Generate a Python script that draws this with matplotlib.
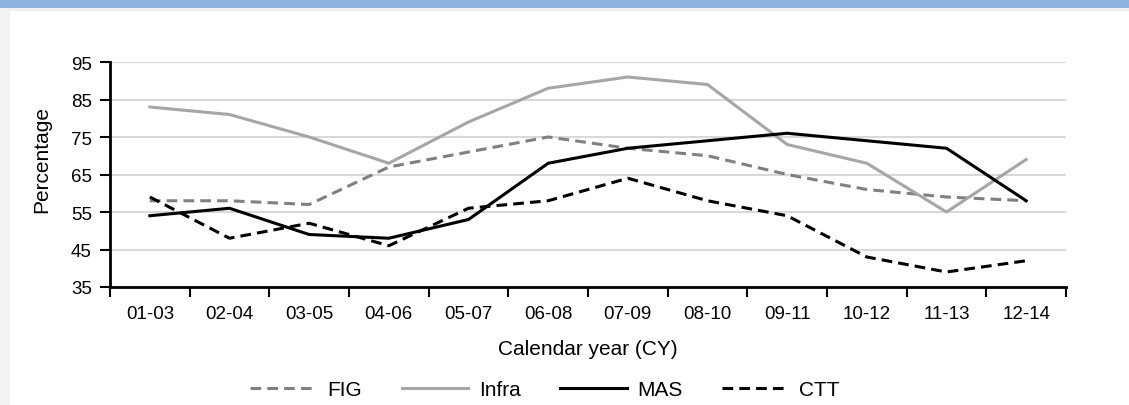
import numpy as np
import matplotlib
matplotlib.use("Agg")
import matplotlib.pyplot as plt
from matplotlib.patches import Rectangle

plt.rcParams['font.family'] = ['Liberation Sans Narrow', 'Liberation Sans', 'DejaVu Sans']

periods = ['01-03', '02-04', '03-05', '04-06', '05-07', '06-08',
           '07-09', '08-10', '09-11', '10-12', '11-13', '12-14']
fig_vals = [58, 58, 57, 67, 71, 75, 72, 70, 65, 61, 59, 58]
infra_vals = [83, 81, 75, 68, 79, 88, 91, 89, 73, 68, 55, 69]
mas_vals = [54, 56, 49, 48, 53, 68, 72, 74, 76, 74, 72, 58]
ctt_vals = [59, 48, 52, 46, 56, 58, 64, 58, 54, 43, 39, 42]
y_ticks = [35, 45, 55, 65, 75, 85, 95]

W, H = 1129, 406
fig = plt.figure(figsize=(W / 100, H / 100), dpi=100)
fig.patch.set_facecolor('white')

# frame: blue band on top, light gray borders
fig.patches.append(Rectangle((0, 1 - 12 / H), 1, 12 / H, transform=fig.transFigure,
                             facecolor='#f2f2f2', edgecolor='none', zorder=0))
fig.patches.append(Rectangle((0, 1 - 9 / H), 1, 9 / H, transform=fig.transFigure,
                             facecolor='#8db3e2', edgecolor='none', zorder=1))
fig.patches.append(Rectangle((0, 0), 10 / W, 1 - 12 / H, transform=fig.transFigure,
                             facecolor='#f2f2f2', edgecolor='none', zorder=0))

ax = fig.add_axes([110 / W, 1 - 288 / H, (1066 - 110) / W, (288 - 63) / H])

x = np.arange(len(periods)) + 0.5
lw = 2.2
ax.plot(x, fig_vals, color='#808080', lw=lw, dashes=(3.5, 2), label='FIG', zorder=3)
ax.plot(x, infra_vals, color='#a6a6a6', lw=lw, label='Infra', zorder=3)
ax.plot(x, mas_vals, color='black', lw=lw, label='MAS', zorder=4)
ax.plot(x, ctt_vals, color='black', lw=lw, dashes=(3.5, 2), label='CTT', zorder=4)

ax.set_xlim(0, len(periods))
ax.set_ylim(35, 95)
ax.set_yticks(y_ticks)
# boundary ticks between periods, labels centred in each slot
ax.set_xticks(np.arange(len(periods) + 1))
ax.set_xticklabels([])
ax.set_xticks(x, minor=True)
ax.set_xticklabels(periods, minor=True)
ax.tick_params(axis='x', which='minor', length=0, pad=13, labelsize=13.5)
ax.tick_params(axis='x', which='major', length=7, width=1.5, direction='out')
ax.tick_params(axis='y', length=7, width=1.5, direction='out', labelsize=13.5, pad=6)

ax.grid(axis='y', color='#d9d9d9', lw=1.5, zorder=0)
for s in ['top', 'right']:
    ax.spines[s].set_visible(False)
for s in ['left', 'bottom']:
    ax.spines[s].set_linewidth(2)

ax.set_xlabel('Calendar year (CY)', fontsize=15, labelpad=12)
fig.text(42 / W, 1 - 160 / H, 'Percentage', rotation=90, fontsize=15,
         ha='center', va='center')

ax.legend(loc='center', bbox_to_anchor=(545 / W, 1 - 391 / H), bbox_transform=fig.transFigure,
          ncol=4, frameon=False, fontsize=15, handlelength=3.2, columnspacing=1.9,
          handletextpad=0.5)

fig.savefig('out.png', dpi=100)
